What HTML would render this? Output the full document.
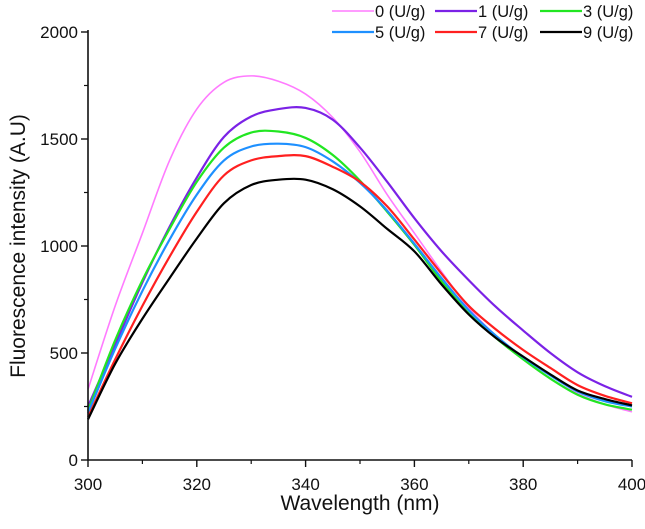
<!DOCTYPE html>
<html><head><meta charset="utf-8"><style>
body{margin:0;background:#fff;}
svg text{font-family:"Liberation Sans",Arial,sans-serif;fill:#111;}
</style></head><body>
<svg id="chart" width="645" height="524" xmlns="http://www.w3.org/2000/svg"></svg>
<script>
const wavelengths=[300,305,310,315,320,325,330,335,340,345,350,355,360,365,370,375,380,385,390,395,400];
const s0=[330,720,1060,1400,1640,1765,1795,1770,1710,1600,1440,1240,1060,880,710,580,470,380,310,260,225];
const s1=[250,540,830,1090,1320,1510,1605,1640,1645,1590,1460,1300,1130,975,840,715,605,500,410,345,295];
const s3=[230,560,840,1080,1300,1460,1530,1535,1505,1425,1305,1160,1005,835,685,570,470,380,305,260,235];
const s5=[220,520,790,1030,1240,1400,1465,1478,1462,1395,1295,1165,1010,850,700,580,480,395,320,275,250];
const s7=[200,470,720,950,1160,1330,1400,1420,1420,1370,1300,1185,1030,870,720,610,514,430,350,300,265];
const s9=[190,450,660,850,1035,1200,1285,1310,1310,1265,1185,1080,975,820,680,570,483,400,325,285,255];
const seriesLabels=["0 (U/g)","1 (U/g)","3 (U/g)","5 (U/g)","7 (U/g)","9 (U/g)"];
const seriesColors=["#ff7bff","#7b22e6","#22e622","#1e90ff","#ff2020","#000000"];
const xTicks=[300,320,340,360,380,400];
const yTicks=[0,500,1000,1500,2000];

const NS="http://www.w3.org/2000/svg";
const svg=document.getElementById('chart');
const X0=88,X1=632,Y0=460,Y1=32;
const xs=v=>X0+(v-300)/100*(X1-X0);
const ys=v=>Y0-v/2000*(Y0-Y1);
function mk(t,a,p){const e=document.createElementNS(NS,t);for(const k in a)e.setAttribute(k,a[k]);(p||svg).appendChild(e);return e;}

const all=[s0,s1,s3,s5,s7,s9];
const g=mk('g',{});


all.forEach((s,i)=>{
  const pts=wavelengths.map((w,j)=>[xs(w),ys(s[j])]);
  let d='M'+pts[0][0]+','+pts[0][1];
  for(let j=0;j<pts.length-1;j++){
    const p0=pts[Math.max(0,j-1)],p1=pts[j],p2=pts[j+1],p3=pts[Math.min(pts.length-1,j+2)];
    const c1=[p1[0]+(p2[0]-p0[0])/6,p1[1]+(p2[1]-p0[1])/6];
    const c2=[p2[0]-(p3[0]-p1[0])/6,p2[1]-(p3[1]-p1[1])/6];
    d+=` C${c1[0]},${c1[1]} ${c2[0]},${c2[1]} ${p2[0]},${p2[1]}`;
  }
  const p=mk('path',{d:d,fill:'none',stroke:seriesColors[i],'stroke-width':i===0?1.6:2.2},g);
  
  
});

const ax=mk('path',{d:`M${X0},${Y1-2}V${Y0}H${X1}`,fill:'none',stroke:'#111','stroke-width':1.6});


yTicks.forEach(v=>{
  mk('line',{x1:X0-7,x2:X0,y1:ys(v),y2:ys(v),stroke:'#111','stroke-width':1.4});
  const t=mk('text',{x:X0-10,y:ys(v)+6,'text-anchor':'end','font-size':17});
  t.textContent=v;
  
  
});
for(let v=250;v<2000;v+=500)mk('line',{x1:X0-4,x2:X0,y1:ys(v),y2:ys(v),stroke:'#111','stroke-width':1.2});
xTicks.forEach(v=>{
  mk('line',{x1:xs(v),x2:xs(v),y1:Y0,y2:Y0+7,stroke:'#111','stroke-width':1.4});
  const t=mk('text',{x:xs(v),y:Y0+30,'text-anchor':'middle','font-size':17});
  t.textContent=v;
  
  
});
for(let v=310;v<400;v+=20)mk('line',{x1:xs(v),x2:xs(v),y1:Y0,y2:Y0+4,stroke:'#111','stroke-width':1.2});

const xt=mk('text',{x:(X0+X1)/2,y:510,'text-anchor':'middle','font-size':21});
xt.textContent='Wavelength (nm)';


const yt=mk('text',{x:0,y:0,'text-anchor':'middle','font-size':21,transform:'translate(25,246) rotate(-90)'});
yt.textContent='Fluorescence intensity (A.U)';



const lx=[332,435,540],ly=[11,32];
seriesLabels.forEach((lab,i)=>{
  const x=lx[i%3],y=ly[Math.floor(i/3)];
  const lg=mk('g',{});
  
  
  mk('line',{x1:x,x2:x+42,y1:y,y2:y,stroke:seriesColors[i],'stroke-width':i===0?1.6:2.2},lg);
  const t=mk('text',{x:x+43,y:y+6,'font-size':16.5},lg);
  t.textContent=lab;
});
</script>
</body></html>
